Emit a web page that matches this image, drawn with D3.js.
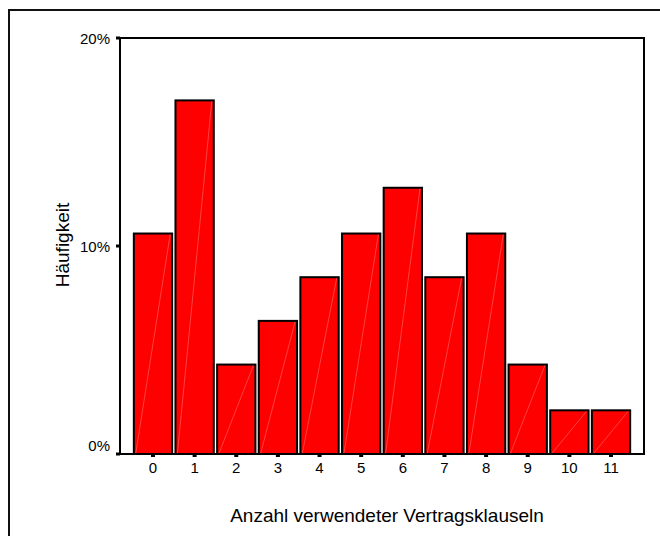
<!DOCTYPE html>
<html>
  <head>
    <meta charset="utf-8" />
    <title>Häufigkeit – Anzahl verwendeter Vertragsklauseln</title>
    <script src="https://d3js.org/d3.v7.min.js"></script>
    <style>
      body { margin: 0; background: #fff; }
      text { font-family: "Liberation Sans", Arial, sans-serif; fill: #000; }
    </style>
  </head>
  <body>
    <svg id="chart" width="660" height="536"></svg>
    <script>
      // Daten (Prozent)
      const categories = ["0", "1", "2", "3", "4", "5", "6", "7", "8", "9", "10", "11"];
      const percents = [10.6, 17.0, 4.3, 6.4, 8.5, 10.6, 12.8, 8.5, 10.6, 4.3, 2.1, 2.1];
      const yTicks = [0, 10, 20];

      const svg = d3.select("#chart");

      // Äußerer Rahmen
      svg.append("rect")
        .attr("x", 9).attr("y", 10)
        .attr("width", 700).attr("height", 600)
        .attr("fill", "none")
        .attr("stroke", "#111")
        .attr("stroke-width", 2);

      const plotLeft = 120, plotRight = 644, plotTop = 38, plotBottom = 454;

      const x = d3.scaleBand()
        .domain(categories)
        .range([133, 631])
        .paddingInner(0.08)
        .paddingOuter(0.02);

      const y = d3.scaleLinear().domain([0, 20]).range([plotBottom, plotTop]);

      // Balken
      const bars = svg.append("g");
      bars.selectAll("rect")
        .data(categories)
        .enter()
        .append("rect")
        .attr("x", (d) => x(d))
        .attr("y", (d, i) => y(percents[i]))
        .attr("width", x.bandwidth())
        .attr("height", (d, i) => plotBottom - y(percents[i]))
        .attr("fill", "#ff0000")
        .attr("stroke", "#000")
        .attr("stroke-width", 2);

      // feine Diagonale in den Balken
      bars.selectAll("line")
        .data(categories)
        .enter()
        .append("line")
        .attr("x1", (d) => x(d) + 2)
        .attr("y1", plotBottom - 1)
        .attr("x2", (d) => x(d) + x.bandwidth() - 2)
        .attr("y2", (d, i) => y(percents[i]) + 1)
        .attr("stroke", "#ff9a9a")
        .attr("stroke-width", 0.6)
        .attr("opacity", 0.7);

      // Plotrahmen
      svg.append("rect")
        .attr("x", plotLeft).attr("y", plotTop)
        .attr("width", plotRight - plotLeft).attr("height", plotBottom - plotTop)
        .attr("fill", "none")
        .attr("stroke", "#000")
        .attr("stroke-width", 2);

      // Y-Achse
      const yAxis = svg.append("g");
      yAxis.selectAll("rect")
        .data(yTicks)
        .enter()
        .append("rect")
        .attr("x", plotLeft - 4)
        .attr("y", (d) => y(d) - 1.5)
        .attr("width", 4)
        .attr("height", 3)
        .attr("fill", "#000");
      yAxis.selectAll("text")
        .data(yTicks)
        .enter()
        .append("text")
        .attr("x", 110)
        .attr("y", (d) => Math.min(y(d) + 5.5, plotBottom - 3))
        .attr("text-anchor", "end")
        .attr("font-size", 15)
        .text((d) => d + "%");

      // X-Achse
      const xAxis = svg.append("g");
      xAxis.selectAll("rect")
        .data(categories)
        .enter()
        .append("rect")
        .attr("x", (d) => x(d) + x.bandwidth() / 2 - 2)
        .attr("y", plotBottom)
        .attr("width", 4)
        .attr("height", 3)
        .attr("fill", "#000");
      xAxis.selectAll("text")
        .data(categories)
        .enter()
        .append("text")
        .attr("x", (d) => x(d) + x.bandwidth() / 2)
        .attr("y", 473)
        .attr("text-anchor", "middle")
        .attr("font-size", 15)
        .text((d) => d);

      // Achsentitel
      svg.append("text")
        .attr("transform", "translate(69,245) rotate(-90)")
        .attr("text-anchor", "middle")
        .attr("font-size", 19)
        .text("Häufigkeit");

      svg.append("text")
        .attr("x", 387)
        .attr("y", 522)
        .attr("text-anchor", "middle")
        .attr("font-size", 19)
        .text("Anzahl verwendeter Vertragsklauseln");
    </script>
  </body>
</html>
